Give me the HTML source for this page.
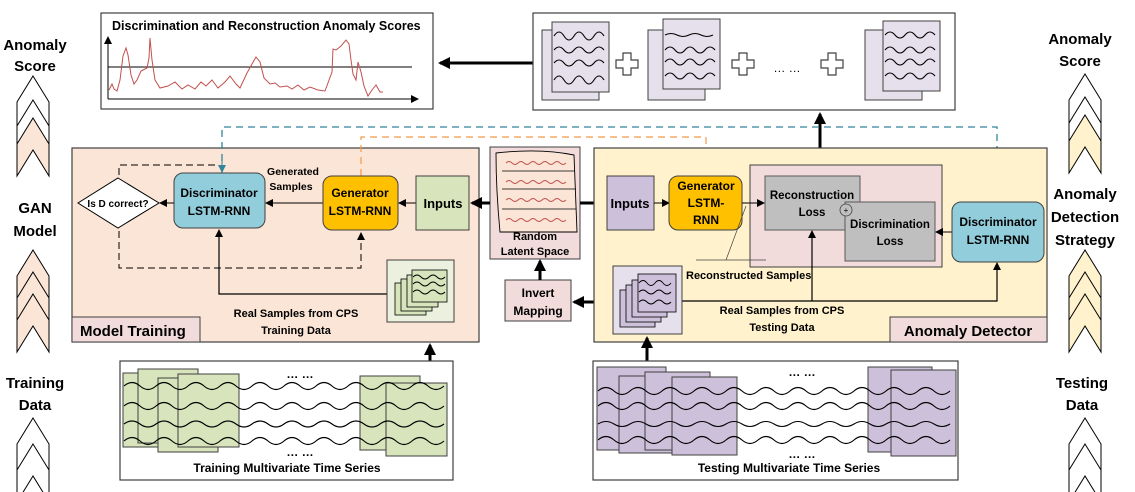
<!DOCTYPE html>
<html><head><meta charset="utf-8"><style>
html,body{margin:0;padding:0;background:#fff;}
svg{display:block;font-family:"Liberation Sans",sans-serif;font-weight:bold;}
</style></head><body>
<svg width="1135" height="492" viewBox="0 0 1135 492" xmlns="http://www.w3.org/2000/svg">
<defs>
<marker id="ah" markerWidth="8" markerHeight="8" refX="7" refY="4" orient="auto" markerUnits="userSpaceOnUse"><path d="M0,0 L8,4 L0,8 z" fill="#000"/></marker>
<marker id="ahb" markerWidth="12" markerHeight="12" refX="10" refY="6" orient="auto" markerUnits="userSpaceOnUse"><path d="M0,0 L12,6 L0,12 z" fill="#000"/></marker>
<marker id="aht" markerWidth="8" markerHeight="8" refX="7" refY="4" orient="auto" markerUnits="userSpaceOnUse"><path d="M0,0 L8,4 L0,8 z" fill="#31859c"/></marker>
<marker id="aho" markerWidth="8" markerHeight="8" refX="7" refY="4" orient="auto" markerUnits="userSpaceOnUse"><path d="M0,0 L8,4 L0,8 z" fill="#f79646"/></marker>
<g id="chev"><path d="M0,0 L16,26 L16,58 L0,32 L-16,58 L-16,26 Z" stroke="#000" stroke-width="1"/></g>
<path id="plus" d="M-4,-11 h8 v7 h7 v8 h-7 v7 h-8 v-7 h-7 v-8 h7 z" fill="#fff" stroke="#404040" stroke-width="1.2"/>
</defs>

<!-- side labels -->
<g font-size="15" text-anchor="middle" fill="#000">
<text x="35" y="50">Anomaly</text><text x="35" y="71">Score</text>
<text x="35" y="213">GAN</text><text x="35" y="236">Model</text>
<text x="35" y="388">Training</text><text x="35" y="410">Data</text>
<text x="1080" y="44">Anomaly</text><text x="1080" y="66">Score</text>
<text x="1085" y="199">Anomaly</text><text x="1085" y="222">Detection</text><text x="1085" y="245">Strategy</text>
<text x="1082" y="388">Testing</text><text x="1082" y="410">Data</text>
</g>
<use href="#chev" x="33" y="76" fill="#fff"/>
<use href="#chev" x="33" y="100" fill="#fff"/>
<use href="#chev" x="33" y="118" fill="#fbe5d6"/>
<use href="#chev" x="33" y="250" fill="#fbe5d6"/>
<use href="#chev" x="33" y="272" fill="#fbe5d6"/>
<use href="#chev" x="33" y="294" fill="#fbe5d6"/>
<use href="#chev" x="33" y="418" fill="#fff"/>
<use href="#chev" x="33" y="444" fill="#fff"/>
<use href="#chev" x="1085" y="74" fill="#fff"/>
<use href="#chev" x="1085" y="97" fill="#fff"/>
<use href="#chev" x="1085" y="115" fill="#fff2cc"/>
<use href="#chev" x="1085" y="250" fill="#fff2cc"/>
<use href="#chev" x="1085" y="272" fill="#fff2cc"/>
<use href="#chev" x="1085" y="294" fill="#fff2cc"/>
<use href="#chev" x="1085" y="418" fill="#fff"/>
<use href="#chev" x="1085" y="444" fill="#fff"/>

<!-- top score box -->
<rect x="101" y="13" width="332" height="96" fill="#fff" stroke="#404040" stroke-width="1.2"/>
<text x="112" y="30" font-size="12.5">Discrimination and Reconstruction Anomaly  Scores</text>
<line x1="108" y1="99" x2="418" y2="99" stroke="#000" marker-end="url(#ah)"/>
<line x1="108" y1="99" x2="108" y2="37" stroke="#000" marker-end="url(#ah)"/>
<line x1="108" y1="67" x2="412" y2="67" stroke="#000"/>
<path d="M109,90 L112,84 L114,89 L117,91 L120,80 L123,56 L126,48 L128,55 L131,75 L134,84 L137,80 L141,71 L145,69 L147,68 L149,58 L150,38 L152,60 L155,80 L160,88 L168,86 L175,82 L182,89 L188,85 L195,89 L201,82 L206,86 L212,80 L218,88 L225,82 L230,76 L236,84 L240,88 L247,73 L252,64 L256,57 L260,62 L264,78 L270,84 L275,83 L280,87 L287,86 L292,89 L298,85 L304,90 L310,87 L318,90 L325,91 L332,72 L333,49 L336,50 L341,46 L346,40 L349,44 L351,60 L353,74 L356,80 L358,62 L361,72 L364,86 L368,96 L372,90 L376,85 L380,92 L383,92" fill="none" stroke="#c0504d" stroke-width="1"/>

<line x1="533" y1="63" x2="440" y2="63" stroke="#000" stroke-width="3" marker-end="url(#ahb)"/>

<!-- top right box -->
<rect x="533" y="13" width="422" height="97" fill="#fff" stroke="#404040" stroke-width="1.2"/>
<g fill="#e6e0ec" stroke="#404040" stroke-width="1">
<rect x="542" y="30" width="57" height="70"/><rect x="552" y="22" width="57" height="70"/>
<rect x="648" y="30" width="57" height="70"/><rect x="663" y="19" width="57" height="70"/>
<rect x="865" y="30" width="57" height="70"/><rect x="883" y="21" width="57" height="70"/>
</g>
<g fill="none" stroke="#000" stroke-width="1.1">
<path d="M554,36 q5,-8 10,0 t10,0 t10,0 t10,0 t10,0"/>
<path d="M554,50 q5,-6 10,0 t10,0 t10,0 t10,0 t10,0"/>
<path d="M554,63 q5,-6 10,0 t10,0 t10,0 t10,0 t10,0"/>
<path d="M554,80 q5,-8 10,0 t10,0 t10,0 t10,0 t10,0"/>
<path d="M665,35 q6,-3 12,0 t12,0 t12,0 t12,0"/>
<path d="M665,50 q5,-6 10,0 t10,0 t10,0 t10,0 t10,0"/>
<path d="M665,62 q5,-6 10,0 t10,0 t10,0 t10,0 t10,0"/>
<path d="M665,76 q5,-6 10,0 t10,0 t10,0 t10,0 t10,0"/>
<path d="M885,35 q5,-6 10,0 t10,0 t10,0 t10,0 t10,0"/>
<path d="M885,50 q5,-6 10,0 t10,0 t10,0 t10,0 t10,0"/>
<path d="M885,62 q5,-6 10,0 t10,0 t10,0 t10,0 t10,0"/>
<path d="M885,76 q5,-6 10,0 t10,0 t10,0 t10,0 t10,0"/>
</g>
<use href="#plus" x="627" y="64"/>
<use href="#plus" x="743" y="64"/>
<use href="#plus" x="832" y="64"/>
<text x="787" y="72" font-size="12" text-anchor="middle" font-weight="normal">… …</text>

<line x1="820" y1="148" x2="820" y2="114" stroke="#000" stroke-width="3" marker-end="url(#ahb)"/>

<!-- Model Training -->
<rect x="72" y="148" width="407" height="194" fill="#fbe5d6" stroke="#404040" stroke-width="1.2"/>
<rect x="72" y="317" width="128" height="25" fill="#f2dcdb" stroke="#404040" stroke-width="1"/>
<text x="80" y="336" font-size="15">Model Training</text>

<path d="M222,173 V127 H997 V200" fill="none" stroke="#31859c" stroke-width="1.3" stroke-dasharray="7,5"/>
<line x1="222" y1="160" x2="222" y2="172" stroke="#31859c" marker-end="url(#aht)"/>
<line x1="997" y1="190" x2="997" y2="201" stroke="#31859c" marker-end="url(#aht)"/>
<path d="M361,176 V137 H706 V170" fill="none" stroke="#f79646" stroke-width="1.2" stroke-dasharray="7,5"/>
<line x1="706" y1="166" x2="706" y2="175" stroke="#f79646" marker-end="url(#aho)"/>

<path d="M119,175 V165 H219 M119,231 V268 H361 V236" fill="none" stroke="#000" stroke-dasharray="7,4"/>
<line x1="361" y1="240" x2="361" y2="233" stroke="#000" marker-end="url(#ah)"/>

<path d="M118,178 L159,203 L118,228 L78,203 Z" fill="#fff" stroke="#000"/>
<text x="118" y="207" font-size="10" text-anchor="middle">Is D correct?</text>
<rect x="174" y="173" width="91" height="55" rx="9" fill="#92cddc" stroke="#404040"/>
<text x="219" y="197" font-size="12" text-anchor="middle">Discriminator</text>
<text x="219" y="215" font-size="12" text-anchor="middle">LSTM-RNN</text>
<line x1="174" y1="203" x2="160" y2="203" stroke="#000" marker-end="url(#ah)"/>
<text x="293" y="175" font-size="10.5" text-anchor="middle">Generated</text>
<text x="291" y="190" font-size="10.5" text-anchor="middle">Samples</text>
<line x1="323" y1="203" x2="266" y2="203" stroke="#000" marker-end="url(#ah)"/>
<rect x="323" y="176" width="75" height="54" rx="9" fill="#ffc000" stroke="#404040"/>
<text x="360" y="197" font-size="12" text-anchor="middle">Generator</text>
<text x="360" y="215" font-size="12" text-anchor="middle">LSTM-RNN</text>
<line x1="416" y1="203" x2="399" y2="203" stroke="#000" marker-end="url(#ah)"/>
<rect x="416" y="176" width="53" height="54" fill="#d8e4bc" stroke="#404040"/>
<text x="443" y="208" font-size="13" text-anchor="middle">Inputs</text>
<path d="M387,294 H219 V231" fill="none" stroke="#000" stroke-width="1.2"/>
<line x1="219" y1="240" x2="219" y2="230" stroke="#000" marker-end="url(#ah)"/>
<rect x="387" y="260" width="67" height="62" fill="#ebf1de" stroke="#404040"/>
<g fill="#d8e4bc" stroke="#000" stroke-width="0.8">
<rect x="395" y="283" width="31" height="32"/><rect x="401" y="279" width="31" height="32"/><rect x="407" y="275" width="31" height="32"/><rect x="412" y="270" width="35" height="32"/>
</g>
<g fill="none" stroke="#000" stroke-width="0.9">
<path d="M413,277 q4,-4 8,0 t8,0 t8,0 t8,0"/><path d="M413,284 q4,-4 8,0 t8,0 t8,0 t8,0"/><path d="M413,292 q4,-4 8,0 t8,0 t8,0 t8,0"/>
</g>
<text x="296" y="317" font-size="11" text-anchor="middle">Real Samples from CPS</text>
<text x="296" y="334" font-size="11" text-anchor="middle">Training Data</text>

<!-- Random latent space -->
<rect x="490" y="147" width="90" height="112" fill="#f2dcdb" stroke="#404040"/>
<path d="M496,153 Q540,148 574,155 L577,232 L500,232 Q496,190 496,153 Z" fill="#fbe5d6" stroke="#000" stroke-width="0.9"/>
<g stroke="#000" stroke-width="0.8" fill="none"><line x1="502" y1="171" x2="575" y2="171"/><line x1="502" y1="189" x2="576" y2="189"/><line x1="502" y1="209" x2="576" y2="209"/></g>
<g fill="none" stroke="#c0504d" stroke-width="0.9">
<path d="M506,163 q3,-3 6,0 t6,0 t6,0 t6,0 t6,0 t6,0 t6,0 t6,0 t6,0 t6,0"/>
<path d="M506,182 q3,-3 6,0 t6,0 t6,0 t6,0 t6,0 t6,0 t6,0 t6,0 t6,0 t6,0"/>
<path d="M506,200 q3,-3 6,0 t6,0 t6,0 t6,0 t6,0 t6,0 t6,0 t6,0 t6,0 t6,0"/>
<path d="M506,220 q3,-3 6,0 t6,0 t6,0 t6,0 t6,0 t6,0 t6,0 t6,0 t6,0 t6,0"/>
</g>
<text x="535" y="240" font-size="11" text-anchor="middle">Random</text>
<text x="535" y="255" font-size="11" text-anchor="middle">Latent Space</text>
<line x1="490" y1="203" x2="472" y2="203" stroke="#000" stroke-width="3" marker-end="url(#ahb)"/>
<line x1="580" y1="203" x2="605" y2="203" stroke="#000" stroke-width="3" marker-end="url(#ahb)"/>
<rect x="505" y="280" width="66" height="41" fill="#f2dcdb" stroke="#404040"/>
<text x="538" y="297" font-size="12" text-anchor="middle">Invert</text>
<text x="538" y="315" font-size="12" text-anchor="middle">Mapping</text>
<line x1="540" y1="280" x2="540" y2="261" stroke="#000" stroke-width="3" marker-end="url(#ahb)"/>
<line x1="613" y1="302" x2="574" y2="302" stroke="#000" stroke-width="3" marker-end="url(#ahb)"/>

<!-- Anomaly detector -->
<rect x="594" y="148" width="453" height="194" fill="#fff2cc" stroke="#404040" stroke-width="1.2"/>
<rect x="890" y="317" width="157" height="25" fill="#f2dcdb" stroke="#404040" stroke-width="1"/>
<text x="968" y="336" font-size="15" text-anchor="middle">Anomaly Detector</text>
<rect x="607" y="176" width="47" height="54" fill="#ccc0da" stroke="#404040"/>
<text x="630" y="208" font-size="13" text-anchor="middle">Inputs</text>
<line x1="654" y1="203" x2="669" y2="203" stroke="#000" marker-end="url(#ah)"/>
<rect x="669" y="176" width="73" height="54" rx="9" fill="#ffc000" stroke="#404040"/>
<text x="706" y="190" font-size="12" text-anchor="middle">Generator</text>
<text x="706" y="207" font-size="12" text-anchor="middle">LSTM-</text>
<text x="706" y="224" font-size="12" text-anchor="middle">RNN</text>
<rect x="750" y="165" width="192" height="102" fill="#f2dcdb" stroke="#404040"/>
<rect x="765" y="176" width="95" height="54" fill="#bfbfbf" stroke="#595959"/>
<text x="812" y="199" font-size="11.5" text-anchor="middle">Reconstruction</text>
<text x="812" y="216" font-size="11.5" text-anchor="middle">Loss</text>
<rect x="845" y="202" width="90" height="59" fill="#bfbfbf" stroke="#595959"/>
<text x="890" y="228" font-size="11.5" text-anchor="middle">Discrimination</text>
<text x="890" y="245" font-size="11.5" text-anchor="middle">Loss</text>
<circle cx="846" cy="210" r="6" fill="#bfbfbf" stroke="#404040" stroke-width="0.8"/>
<text x="846" y="213" font-size="8" text-anchor="middle" font-weight="normal">+</text>
<line x1="742" y1="203" x2="764" y2="203" stroke="#000" marker-end="url(#ah)"/>
<line x1="952" y1="232" x2="936" y2="232" stroke="#000" marker-end="url(#ah)"/>
<path d="M746,206 L726,260 M696,260 H766" fill="none" stroke="#404040" stroke-width="0.7"/>
<rect x="952" y="202" width="92" height="60" rx="9" fill="#92cddc" stroke="#404040"/>
<text x="998" y="226" font-size="12" text-anchor="middle">Discriminator</text>
<text x="998" y="244" font-size="12" text-anchor="middle">LSTM-RNN</text>
<text x="686" y="279" font-size="11">Reconstructed Samples</text>
<path d="M682,301 H997 V264" fill="none" stroke="#000" stroke-width="1.2"/>
<line x1="997" y1="272" x2="997" y2="263" stroke="#000" marker-end="url(#ah)"/>
<path d="M812,301 V232" fill="none" stroke="#000" stroke-width="1.2"/>
<line x1="812" y1="240" x2="812" y2="231" stroke="#000" marker-end="url(#ah)"/>
<rect x="613" y="266" width="69" height="68" fill="#e6e0ec" stroke="#404040"/>
<g fill="#ccc0da" stroke="#000" stroke-width="0.8">
<rect x="620" y="290" width="35" height="37"/><rect x="626" y="285" width="35" height="37"/><rect x="632" y="280" width="35" height="37"/><rect x="638" y="274" width="38" height="38"/>
</g>
<g fill="none" stroke="#000" stroke-width="0.9">
<path d="M639,283 q4,-5 8,0 t8,0 t8,0 t8,0"/><path d="M639,292 q4,-4 8,0 t8,0 t8,0 t8,0"/><path d="M639,302 q4,-4 8,0 t8,0 t8,0 t8,0"/>
</g>
<text x="782" y="314" font-size="11" text-anchor="middle">Real Samples from CPS</text>
<text x="782" y="331" font-size="11" text-anchor="middle">Testing Data</text>

<line x1="430" y1="362" x2="430" y2="345" stroke="#000" stroke-width="3" marker-end="url(#ahb)"/>
<line x1="647" y1="362" x2="647" y2="338" stroke="#000" stroke-width="3" marker-end="url(#ahb)"/>

<!-- Training MTS -->
<rect x="120" y="361" width="333" height="119" fill="#fff" stroke="#404040" stroke-width="1.2"/>
<g fill="#d8e4bc" stroke="#404040" stroke-width="1">
<rect x="123" y="373" width="60" height="74"/><rect x="138" y="369" width="60" height="74"/><rect x="158" y="378" width="60" height="74"/><rect x="178" y="374" width="61" height="73"/>
<rect x="360" y="376" width="60" height="74"/><rect x="386" y="383" width="61" height="73"/>
</g>
<g fill="none" stroke="#000" stroke-width="1.1">
<path d="M124,386 q8,-7 16,0 t16,0 t16,0 t16,0 t16,0 t16,0 t16,0 t16,0 t16,0 t16,0 t16,0 t16,0 t16,0 t16,0 t16,0 t16,0 t16,0 t16,0 t16,0 t16,0"/>
<path d="M124,406 q8,-7 16,0 t16,0 t16,0 t16,0 t16,0 t16,0 t16,0 t16,0 t16,0 t16,0 t16,0 t16,0 t16,0 t16,0 t16,0 t16,0 t16,0 t16,0 t16,0 t16,0"/>
<path d="M124,424 q8,-6 16,0 t16,0 t16,0 t16,0 t16,0 t16,0 t16,0 t16,0 t16,0 t16,0 t16,0 t16,0 t16,0 t16,0 t16,0 t16,0 t16,0 t16,0 t16,0 t16,0"/>
<path d="M124,441 q8,-7 16,0 t16,0 t16,0 t16,0 t16,0 t16,0 t16,0 t16,0 t16,0 t16,0 t16,0 t16,0 t16,0 t16,0 t16,0 t16,0 t16,0 t16,0 t16,0 t16,0"/>
</g>
<text x="300" y="378" font-size="12" text-anchor="middle">… …</text>
<text x="300" y="456" font-size="12" text-anchor="middle">… …</text>
<text x="287" y="472" font-size="12" text-anchor="middle">Training Multivariate Time Series</text>

<!-- Testing MTS -->
<rect x="593" y="361" width="365" height="119" fill="#fff" stroke="#404040" stroke-width="1.2"/>
<g fill="#ccc0da" stroke="#404040" stroke-width="1">
<rect x="597" y="367" width="69" height="83"/><rect x="619" y="376" width="61" height="77"/><rect x="645" y="372" width="65" height="78"/><rect x="672" y="377" width="65" height="78"/>
<rect x="868" y="367" width="64" height="85"/><rect x="891" y="370" width="65" height="86"/>
</g>
<g fill="none" stroke="#000" stroke-width="1.1">
<path d="M598,391 q8,-7 16,0 t16,0 t16,0 t16,0 t16,0 t16,0 t16,0 t16,0 t16,0 t16,0 t16,0 t16,0 t16,0 t16,0 t16,0 t16,0 t16,0 t16,0 t16,0 t16,0 t16,0 t16,0"/>
<path d="M598,406 q8,-7 16,0 t16,0 t16,0 t16,0 t16,0 t16,0 t16,0 t16,0 t16,0 t16,0 t16,0 t16,0 t16,0 t16,0 t16,0 t16,0 t16,0 t16,0 t16,0 t16,0 t16,0 t16,0"/>
<path d="M598,424 q8,-5 16,0 t16,0 t16,0 t16,0 t16,0 t16,0 t16,0 t16,0 t16,0 t16,0 t16,0 t16,0 t16,0 t16,0 t16,0 t16,0 t16,0 t16,0 t16,0 t16,0 t16,0 t16,0"/>
<path d="M598,440 q8,-7 16,0 t16,0 t16,0 t16,0 t16,0 t16,0 t16,0 t16,0 t16,0 t16,0 t16,0 t16,0 t16,0 t16,0 t16,0 t16,0 t16,0 t16,0 t16,0 t16,0 t16,0 t16,0"/>
</g>
<text x="802" y="376" font-size="12" text-anchor="middle">… …</text>
<text x="802" y="458" font-size="12" text-anchor="middle">… …</text>
<text x="789" y="472" font-size="12" text-anchor="middle">Testing Multivariate Time Series</text>
</svg>
</body></html>
